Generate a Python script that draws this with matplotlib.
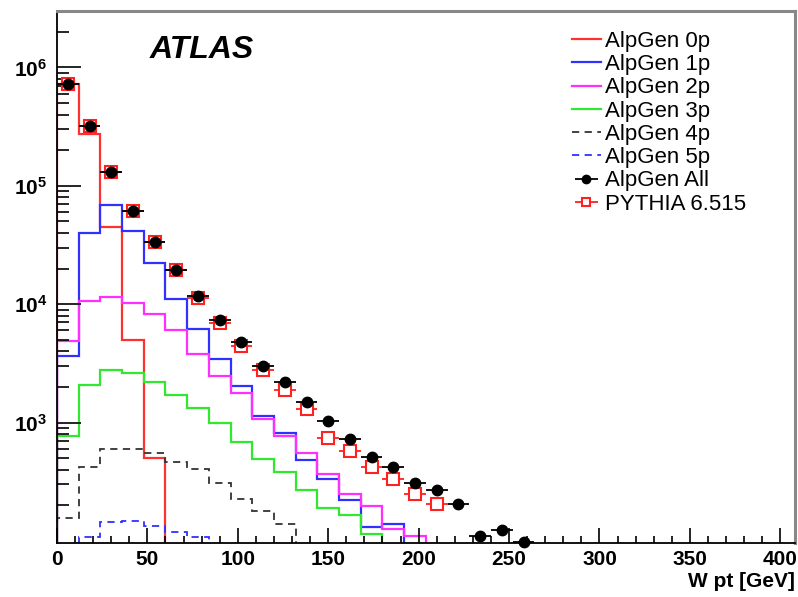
import numpy as np
import matplotlib
matplotlib.use("Agg")
import matplotlib.pyplot as plt
from matplotlib.ticker import LogLocator, MultipleLocator, NullFormatter

plt.rcParams['font.family'] = ['Liberation Sans', 'DejaVu Sans']
plt.rcParams['mathtext.fontset'] = 'custom'
plt.rcParams['mathtext.rm'] = 'Liberation Sans'
plt.rcParams['mathtext.bf'] = 'Liberation Sans:bold'

# W pt bins, 12 GeV wide
edges = np.arange(0, 409, 12)

alp0 = [7.3e5, 2.76e5, 4.5e4, 5.0e3, 500]
alp1 = [3.62e3, 3.97e4, 6.9e4, 4.17e4, 2.22e4, 1.1e4, 6.2e3, 3.44e3, 2.02e3,
        1.13e3, 819, 479, 331, 221, 132, 138]
alp2 = [4.84e3, 1.07e4, 1.15e4, 1.03e4, 8.3e3, 6.0e3, 3.8e3, 2.49e3, 1.78e3,
        1.08e3, 762, 548, 365, 247, 197, 127, 110]
alp3 = [767, 2.09e3, 2.8e3, 2.62e3, 2.18e3, 1.72e3, 1.33e3, 995, 687, 490,
        381, 267, 191, 164, 114]
alp4 = [157, 425, 593, 593, 556, 463, 407, 306, 227, 179, 138, 85, 60]
alp5 = [92, 108, 143, 147, 134, 119, 107, 85]

alp_all = [7.3e5, 3.18e5, 1.30e5, 6.15e4, 3.33e4, 1.95e4, 1.17e4, 7.38e3,
           4.75e3, 2.98e3, 2.19e3, 1.48e3, 1.04e3, 719, 514, 420, 306, 269,
           206, 110, 124, 98]
pythia = [7.3e5, 3.18e5, 1.30e5, 6.15e4, 3.33e4, 1.95e4, 1.12e4, 6.9e3,
          4.4e3, 2.76e3, 1.9e3, 1.30e3, 743, 573, 424, 331, 247, 204]

nbins = len(edges) - 1
centers = 0.5 * (edges[:-1] + edges[1:])


def full(vals):
    # empty bins drawn far below the axis
    v = np.full(nbins, 1e-3)
    v[:len(vals)] = vals
    return v


fig = plt.figure(figsize=(7.98, 5.97), dpi=100)
ax = fig.add_axes([0.0714, 0.0905, 0.9246, 0.8911])

ax.stairs(full(alp0), edges, baseline=1e-3, color='#ff3030', lw=1.6, label='AlpGen 0p')
ax.stairs(full(alp1), edges, baseline=1e-3, color='#3030ff', lw=1.6, label='AlpGen 1p')
ax.stairs(full(alp2), edges, baseline=1e-3, color='#ff30ff', lw=1.6, label='AlpGen 2p')
ax.stairs(full(alp3), edges, baseline=1e-3, color='#30e830', lw=1.6, label='AlpGen 3p')
ax.stairs(full(alp4), edges, baseline=1e-3, color='#333333', lw=1.3, ls=(0, (4, 3)), label='AlpGen 4p')
ax.stairs(full(alp5), edges, baseline=1e-3, color='#3030ff', lw=1.3, ls=(0, (4, 3)), label='AlpGen 5p')

n = len(pythia)
ax.errorbar(centers[:n], pythia, xerr=6, fmt='s', ms=8, mfc='white', mec='#ff2020',
            mew=1.5, ecolor='#ff2020', elinewidth=1.3, capsize=0, zorder=4,
            label='PYTHIA 6.515')
n = len(alp_all)
ax.errorbar(centers[:n], alp_all, xerr=6, fmt='o', ms=7.5, color='black',
            elinewidth=1.3, capsize=0, zorder=5, label='AlpGen All', clip_on=False)

ax.set_yscale('log')
ax.set_xlim(0, 408)
ax.set_ylim(96, 3e6)

ax.xaxis.set_major_locator(MultipleLocator(50))
ax.xaxis.set_minor_locator(MultipleLocator(10))
ax.set_yticks([1e3, 1e4, 1e5, 1e6])
ax.set_yticklabels([r'$\mathbf{10^{3}}$', r'$\mathbf{10^{4}}$',
                    r'$\mathbf{10^{5}}$', r'$\mathbf{10^{6}}$'])
ax.yaxis.set_minor_locator(LogLocator(base=10, subs=np.arange(2, 10)))
ax.yaxis.set_minor_formatter(NullFormatter())

ax.tick_params(axis='x', which='major', direction='in', length=11, width=1.2,
               labelsize=15, pad=5)
ax.tick_params(axis='x', which='minor', direction='in', length=5, width=1.2)
ax.tick_params(axis='y', which='major', direction='in', length=17, width=1.2,
               labelsize=15, pad=7)
ax.tick_params(axis='y', which='minor', direction='in', length=8.5, width=1.2)
for lab in ax.get_xticklabels():
    lab.set_fontweight('bold')

ax.spines['left'].set_linewidth(1.3)
ax.spines['bottom'].set_linewidth(1.3)
ax.spines['top'].set_color('#888888')
ax.spines['right'].set_color('#888888')
ax.spines['top'].set_linewidth(2.2)
ax.spines['right'].set_linewidth(2.2)

ax.set_xlabel('W pt [GeV]', loc='right', fontsize=15, fontweight='bold', labelpad=2)

fig.text(150 / 798, 1 - 58 / 597, 'ATLAS', fontsize=23, fontweight='bold',
         fontstyle='italic', va='baseline', ha='left')

handles, labels = ax.get_legend_handles_labels()
order = ['AlpGen 0p', 'AlpGen 1p', 'AlpGen 2p', 'AlpGen 3p', 'AlpGen 4p',
         'AlpGen 5p', 'AlpGen All', 'PYTHIA 6.515']
hmap = dict(zip(labels, handles))
leg = ax.legend([hmap[k] for k in order], order, loc='upper left',
                bbox_to_anchor=(572 / 798, 1 - 31 / 597), bbox_transform=fig.transFigure,
                frameon=False, fontsize=16, labelspacing=0.1, handlelength=1.3,
                handletextpad=0.2, borderpad=0, borderaxespad=0, markerscale=0.8)

fig.savefig('out.png', dpi=100)
